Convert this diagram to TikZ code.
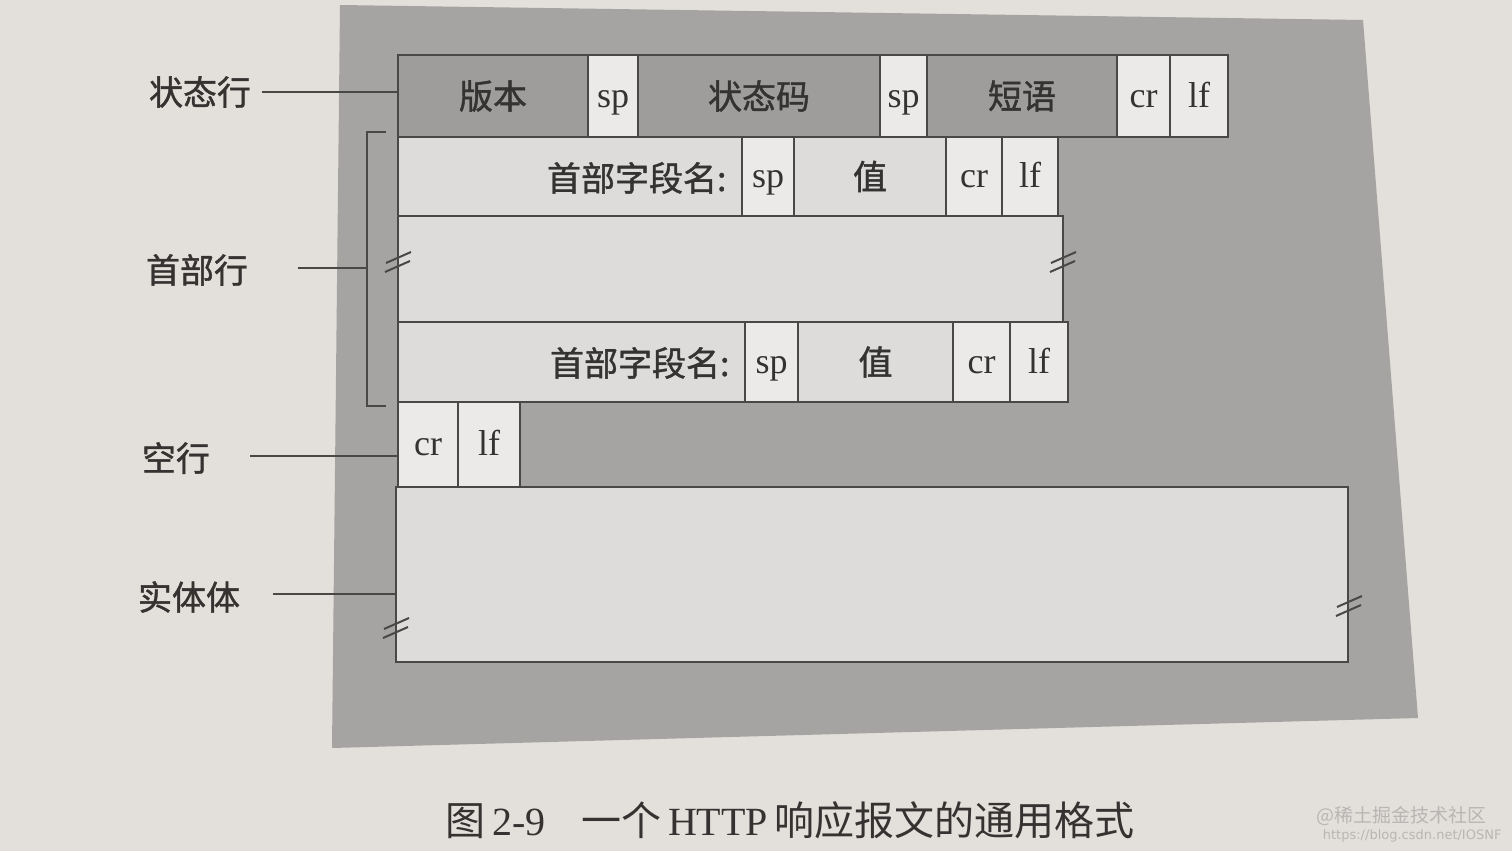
\documentclass[tikz,border=0pt]{standalone}
\usepackage{fontspec}
\setmainfont{Liberation Serif}
\newfontfamily\cjk{Noto Sans CJK SC}
\newfontfamily\cjkm[FakeBold=1.2]{Noto Sans CJK SC}
\newfontfamily\wmsans{DejaVu Sans}
\definecolor{paper}{HTML}{E3DFDB}
\definecolor{frame}{HTML}{A6A4A2}
\definecolor{darkc}{HTML}{9F9D9B}
\definecolor{pale}{HTML}{DEDCDA}
\definecolor{whitish}{HTML}{ECEAE8}
\definecolor{ink}{HTML}{4A4846}
\definecolor{txt}{HTML}{353331}
\definecolor{wmark}{HTML}{B8B6B4}
\newcommand\mycell[7]{%
  \pgfmathsetmacro\cw{#4-#2}\pgfmathsetmacro\ch{#5-#3}%
  \node[#6, minimum width=\cw pt, minimum height=\ch pt] (#1) at ({(#2+#4)/2},{(#3+#5)/2}) {#7};}
\newcommand\brkmark[2]{%
  \draw[brk] ({#1-12},{#2+1}) -- ({#1+13},{#2-10});
  \draw[brk] ({#1-13},{#2+10}) -- ({#1+12},{#2-1});}
\begin{document}
\begin{tikzpicture}[x=1pt,y=-1pt,
  cellbase/.style={draw=ink, line width=2.6pt, inner sep=0pt, outer sep=0pt},
  darkcell/.style={cellbase, fill=darkc},
  palecell/.style={cellbase, fill=pale},
  lightcell/.style={cellbase, fill=whitish},
  lat/.style={font=\fontsize{36}{42}\selectfont, text=txt, text height=26pt, text depth=4pt},
  cn/.style={font=\cjkm\fontsize{34}{40}\selectfont, text=txt},
  sidelbl/.style={font=\cjkm\fontsize{34}{40}\selectfont, text=txt, inner sep=0pt},
  leader/.style={draw=ink, line width=2pt},
  brk/.style={draw=ink, line width=2pt}]
\useasboundingbox (0,0) rectangle (1512,851);
\fill[paper] (0,0) rectangle (1512,851);
% outer grey frame
\fill[frame] (340,5) -- (1363,20) -- (1418,718) -- (332,748) -- cycle;
% entity body
\mycell{body}{396}{487}{1348}{662}{palecell}{}
% status line
\mycell{vers}{398}{55}{588}{137}{darkcell,cn}{版本}
\mycell{sp1}{588}{55}{638}{137}{lightcell,lat}{sp}
\mycell{code}{638}{55}{880}{137}{darkcell,cn}{状态码}
\mycell{sp2}{880}{55}{927}{137}{lightcell,lat}{sp}
\mycell{phr}{927}{55}{1117}{137}{darkcell,cn}{短语}
\mycell{cr1}{1117}{55}{1170}{137}{lightcell,lat}{cr}
\mycell{lf1}{1170}{55}{1228}{137}{lightcell,lat}{lf}
% blank area between header lines
\mycell{gap}{398}{216}{1063}{322}{palecell}{}
% header line 1
\mycell{hn1}{398}{137}{742}{216}{palecell}{}
\node[cn, anchor=east] (hn1t) at (730,178) {首部字段名:};
\mycell{hsp1}{742}{137}{794}{216}{lightcell,lat}{sp}
\mycell{hv1}{794}{137}{946}{216}{palecell,cn}{值}
\mycell{hcr1}{946}{137}{1002}{216}{lightcell,lat}{cr}
\mycell{hlf1}{1002}{137}{1058}{216}{lightcell,lat}{lf}
% header line 2
\mycell{hn2}{398}{322}{745}{402}{palecell}{}
\node[cn, anchor=east] (hn2t) at (733,363) {首部字段名:};
\mycell{hsp2}{745}{322}{798}{402}{lightcell,lat}{sp}
\mycell{hv2}{798}{322}{953}{402}{palecell,cn}{值}
\mycell{hcr2}{953}{322}{1010}{402}{lightcell,lat}{cr}
\mycell{hlf2}{1010}{322}{1068}{402}{lightcell,lat}{lf}
% blank line
\mycell{bcr}{398}{402}{458}{487}{lightcell,lat}{cr}
\mycell{blf}{458}{402}{520}{487}{lightcell,lat}{lf}
% break marks
\brkmark{398}{262}
\brkmark{1063}{262}
\brkmark{396}{628}
\brkmark{1349}{606}
% side labels
\node[sidelbl] (s1) at (200,92) {状态行};
\node[sidelbl] (s2) at (197,270) {首部行};
\node[sidelbl] (s3) at (176,458) {空行};
\node[sidelbl] (s4) at (189,597) {实体体};
\coordinate (l1s) at (262,92);
\coordinate (l2s) at (298,268);
\coordinate (l3s) at (250,456);
\coordinate (l4s) at (273,594);
\coordinate (bt) at (386,132);
\coordinate (bb) at (386,406);
\coordinate (bx) at (367,268);
\draw[leader] (l1s) -- (l1s -| vers.west);
\draw[leader] (bt) -- (367,132) -- (367,406) -- (bb);
\draw[leader] (l2s) -- (bx);
\draw[leader] (l3s) -- (l3s -| bcr.west);
\draw[leader] (l4s) -- (l4s -| body.west);
% caption
\node[font=\fontsize{40}{46}\selectfont, text=txt] (cap) at (790,820)
  {{\cjk 图}\,2-9\hspace{0.9em}{\cjk 一个}\,HTTP\,{\cjk 响应报文的通用格式}};
% watermark
\node[font=\cjk\fontsize{19}{22}\selectfont, text=wmark, anchor=east] (wm1) at (1490,816) {@稀土掘金技术社区};
\node[font=\wmsans\fontsize{13}{16}\selectfont, text=wmark, anchor=east] (wm2) at (1505,836) {https://blog.csdn.net/IOSNF};
\end{tikzpicture}
\end{document}
